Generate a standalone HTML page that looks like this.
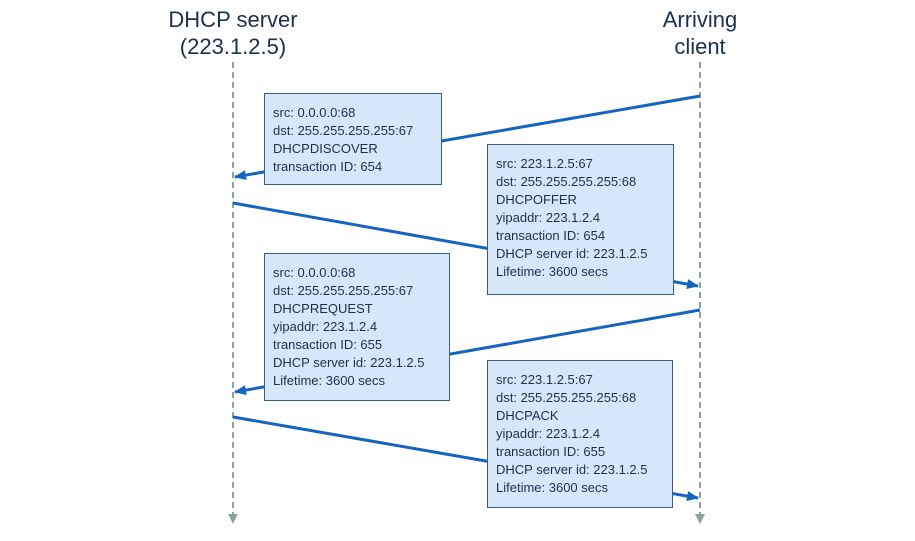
<!DOCTYPE html>
<html><head><style>
body{margin:0;background:#fff;width:915px;height:541px;position:relative;overflow:hidden;font-family:"Liberation Sans",sans-serif;}
.t{position:absolute;font-size:22px;color:#1d2e4f;text-align:center;width:200px;line-height:27px;}
.b{position:absolute;background:#d7e7fa;border:1.5px solid #3c5a82;box-sizing:border-box;padding:10px 0 0 8px;font-size:13px;line-height:18px;color:#1d2e4f;white-space:nowrap;}
</style></head><body>
<svg width="915" height="541" style="position:absolute;left:0;top:0">
<defs><marker id="a" markerWidth="12" markerHeight="10" refX="11" refY="5" orient="auto" markerUnits="userSpaceOnUse"><path d="M0,0 L12,5 L0,10 z" fill="#1565c0"/></marker></defs>
<line x1="233" y1="62" x2="233" y2="522" stroke="#8aa39c" stroke-width="2" stroke-dasharray="6,4"/>
<path d="M228,514 L238,514 L233,524 z" fill="#8aa39c"/>
<line x1="700" y1="62" x2="700" y2="522" stroke="#8aa39c" stroke-width="2" stroke-dasharray="6,4"/>
<path d="M695,514 L705,514 L700,524 z" fill="#8aa39c"/>
<g stroke="#1565c0" stroke-width="3" fill="none">
<line x1="700" y1="96" x2="235" y2="177" marker-end="url(#a)"/>
<line x1="233" y1="203" x2="698" y2="286" marker-end="url(#a)"/>
<line x1="700" y1="310" x2="235" y2="392" marker-end="url(#a)"/>
<line x1="233" y1="417" x2="698" y2="498" marker-end="url(#a)"/>
</g>
</svg>
<div class="t" style="left:133px;top:6px">DHCP server<br>(223.1.2.5)</div>
<div class="t" style="left:600px;top:6px">Arriving<br>client</div>
<div class="b" style="left:264px;top:93px;width:178px;height:92px">src: 0.0.0.0:68<br>dst: 255.255.255.255:67<br>DHCPDISCOVER<br>transaction ID: 654</div>
<div class="b" style="left:487px;top:144px;width:187px;height:151px">src: 223.1.2.5:67<br>dst: 255.255.255.255:68<br>DHCPOFFER<br>yipaddr: 223.1.2.4<br>transaction ID: 654<br>DHCP server id: 223.1.2.5<br>Lifetime: 3600 secs</div>
<div class="b" style="left:264px;top:253px;width:186px;height:148px">src: 0.0.0.0:68<br>dst: 255.255.255.255:67<br>DHCPREQUEST<br>yipaddr: 223.1.2.4<br>transaction ID: 655<br>DHCP server id: 223.1.2.5<br>Lifetime: 3600 secs</div>
<div class="b" style="left:487px;top:360px;width:186px;height:148px">src: 223.1.2.5:67<br>dst: 255.255.255.255:68<br>DHCPACK<br>yipaddr: 223.1.2.4<br>transaction ID: 655<br>DHCP server id: 223.1.2.5<br>Lifetime: 3600 secs</div>
</body></html>
